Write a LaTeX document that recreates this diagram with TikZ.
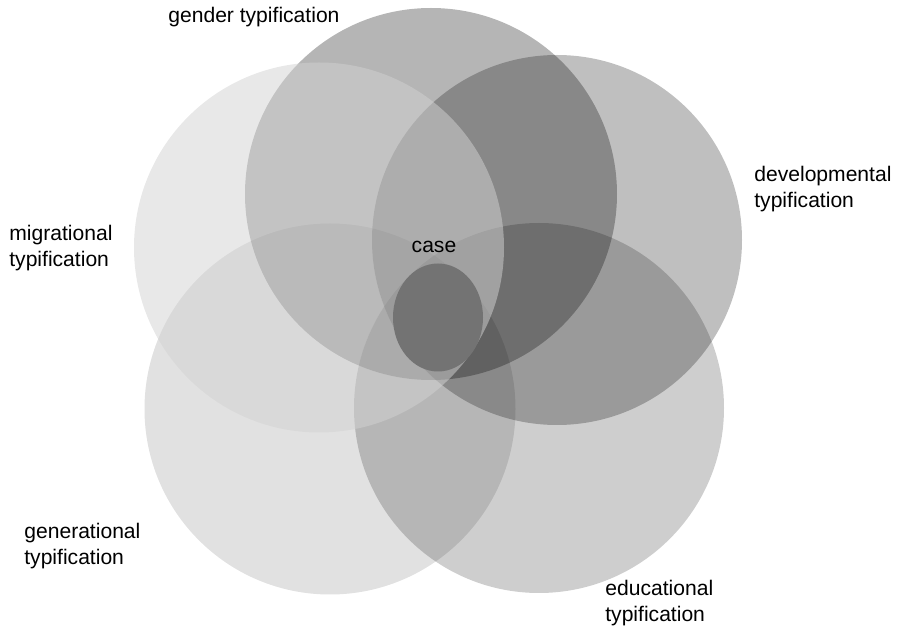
\documentclass[tikz,border=0pt]{standalone}
\usepackage{fontspec}
\setmainfont{Liberation Sans}
\usepackage{xcolor}

\definecolor{migfill}{gray}{0.825}
\definecolor{casefill}{HTML}{737373}

\begin{document}
\begin{tikzpicture}[
  typ/.style={fill=black, draw=none},
  tag/.style={font=\fontsize{12}{15.3}\selectfont, align=left, anchor=base west, inner sep=0pt}
]
\useasboundingbox (0,0) rectangle (18,12.58);

% --- Circulos (multiplicativos) ---
\fill[typ, fill opacity=0.29]  (8.62,8.70) circle (3.72);   % gender
\fill[typ, fill opacity=0.25]  (11.14,7.78) circle (3.70);  % developmental
\fill[typ, fill opacity=0.118] (6.60,4.40) circle (3.71);   % generational
\fill[typ, fill opacity=0.192] (10.78,4.42) circle (3.70);  % educational
% migrational encima, aclara
\fill[migfill, fill opacity=0.514] (6.38,7.63) circle (3.70);

% --- Caso ---
\fill[casefill] (8.76,6.23) ellipse (0.90 and 1.08);

% --- Etiquetas ---
\node[tag] (gender) at (3.36,12.13) {gender typification};
\node[tag] (devel) at (15.08,8.42) {developmental\\typification};
\node[tag] (migr) at (0.18,7.24) {migrational\\typification};
\node[tag] (gener) at (0.48,1.28) {generational\\typification};
\node[tag] (educ) at (12.10,0.14) {educational\\typification};
\node[tag, anchor=base] (case) at (8.68,7.52) {case};

\end{tikzpicture}
\end{document}
